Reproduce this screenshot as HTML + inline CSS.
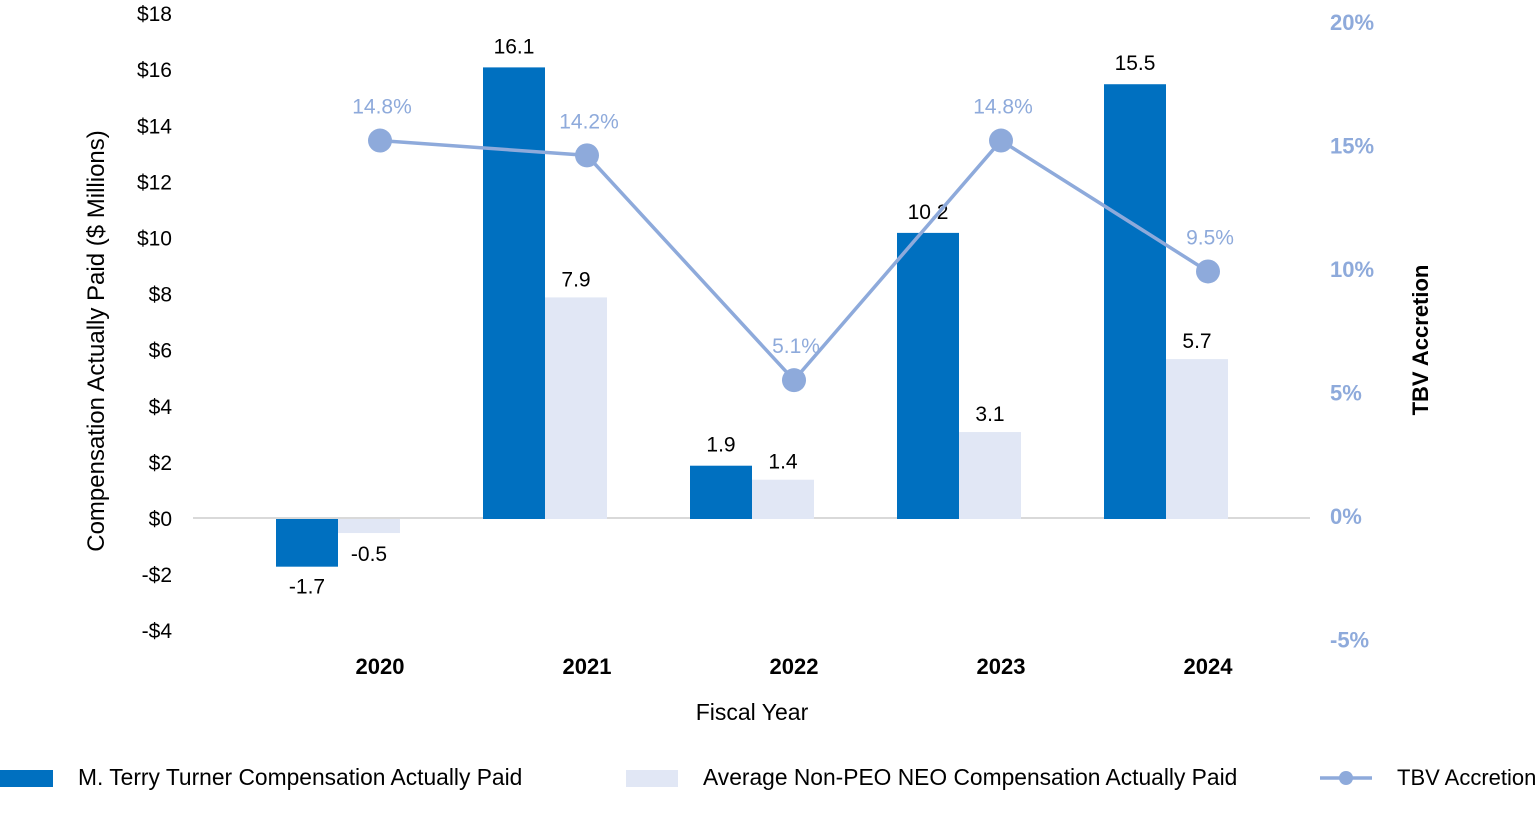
<!DOCTYPE html>
<html><head><meta charset="utf-8"><style>
body{margin:0;background:#fff;}
svg{display:block;font-family:"Liberation Sans",sans-serif;}
</style></head><body>
<svg id="chart" width="1539" height="836" viewBox="0 0 1539 836"></svg>
<script>
const categories=["2020","2021","2022","2023","2024"];
const peoValues=[-1.7,16.1,1.9,10.2,15.5];
const neoValues=[-0.5,7.9,1.4,3.1,5.7];
const tbvValues=[15.2,14.6,5.5,15.2,9.9];
const tbvLabels=["14.8%","14.2%","5.1%","14.8%","9.5%"];
const leftTicks=[18,16,14,12,10,8,6,4,2,0,-2,-4];
const rightTicks=[20,15,10,5,0,-5];
const NS="http://www.w3.org/2000/svg";
const svg=document.getElementById('chart');
function yL(v){return 519-v*28.05;}
function yR(v){return 516-v*24.7;}
function xC(i){return 380+i*207;}
function el(tag,attrs,text){const e=document.createElementNS(NS,tag);for(const k in attrs)e.setAttribute(k,attrs[k]);if(text!==undefined)e.textContent=text;svg.appendChild(e);return e;}
let g=el('line',{x1:193,x2:1310,y1:518,y2:518,stroke:'#d9d9d9','stroke-width':2});


leftTicks.forEach(v=>{const t=el('text',{x:172,y:yL(v)+7,'text-anchor':'end','font-size':21,fill:'#000'},(v<0?'-$':'$')+Math.abs(v));

});
rightTicks.forEach(v=>{const t=el('text',{x:1330,y:yR(v)+8,'font-size':22,'font-weight':'bold',fill:'#8eaadb'},v+'%');

});
categories.forEach((c,i)=>{
 const gx=xC(i)-42;
 const pv=peoValues[i],nv=neoValues[i];
 const b1=el('rect',{x:gx-62,y:Math.min(yL(pv),yL(0)),width:62,height:Math.abs(yL(pv)-yL(0)),fill:'#0070c0'});
 
 
 const b2=el('rect',{x:gx,y:Math.min(yL(nv),yL(0)),width:62,height:Math.abs(yL(nv)-yL(0)),fill:'#e1e7f5'});
 
 
 const l1=el('text',{x:gx-31,y:pv>=0?yL(pv)-14:yL(pv)+27,'text-anchor':'middle','font-size':21},String(pv));
 
 
 const l2=el('text',{x:gx+31,y:nv>=0?yL(nv)-11:yL(nv)+28,'text-anchor':'middle','font-size':21},String(nv));
 
 
 const ct=el('text',{x:xC(i),y:674,'text-anchor':'middle','font-size':22,'font-weight':'bold'},c);
 
 
});
const pts=tbvValues.map((v,i)=>xC(i)+','+yR(v)).join(' ');
const pl=el('polyline',{points:pts,fill:'none',stroke:'#8eaadb','stroke-width':3.5});


tbvValues.forEach((v,i)=>{
 const c=el('circle',{cx:xC(i),cy:yR(v),r:12,fill:'#8eaadb'});
 
 
 const t=el('text',{x:xC(i)+2,y:yR(v)-27,'text-anchor':'middle','font-size':21,fill:'#8eaadb'},tbvLabels[i]);
 
 
});
let t=el('text',{x:752,y:720,'text-anchor':'middle','font-size':23},'Fiscal Year');


t=el('text',{x:0,y:0,'text-anchor':'middle','font-size':24,transform:'translate(104,341) rotate(-90)'},'Compensation Actually Paid ($ Millions)');


t=el('text',{x:0,y:0,'text-anchor':'middle','font-size':22,'font-weight':'bold',transform:'translate(1428,340) rotate(-90)'},'TBV Accretion');


let r=el('rect',{x:0,y:770,width:53,height:17,fill:'#0070c0'});


t=el('text',{x:78,y:785,'font-size':22.8},'M. Terry Turner Compensation Actually Paid');


r=el('rect',{x:626,y:770,width:52,height:17,fill:'#e1e7f5'});


t=el('text',{x:703,y:785,'font-size':22.8},'Average Non-PEO NEO Compensation Actually Paid');


r=el('line',{x1:1320,x2:1372,y1:778,y2:778,stroke:'#8eaadb','stroke-width':3.5});


r=el('circle',{cx:1346,cy:778,r:7,fill:'#8eaadb'});


t=el('text',{x:1397,y:785,'font-size':22},'TBV Accretion');


</script>
</body></html>
